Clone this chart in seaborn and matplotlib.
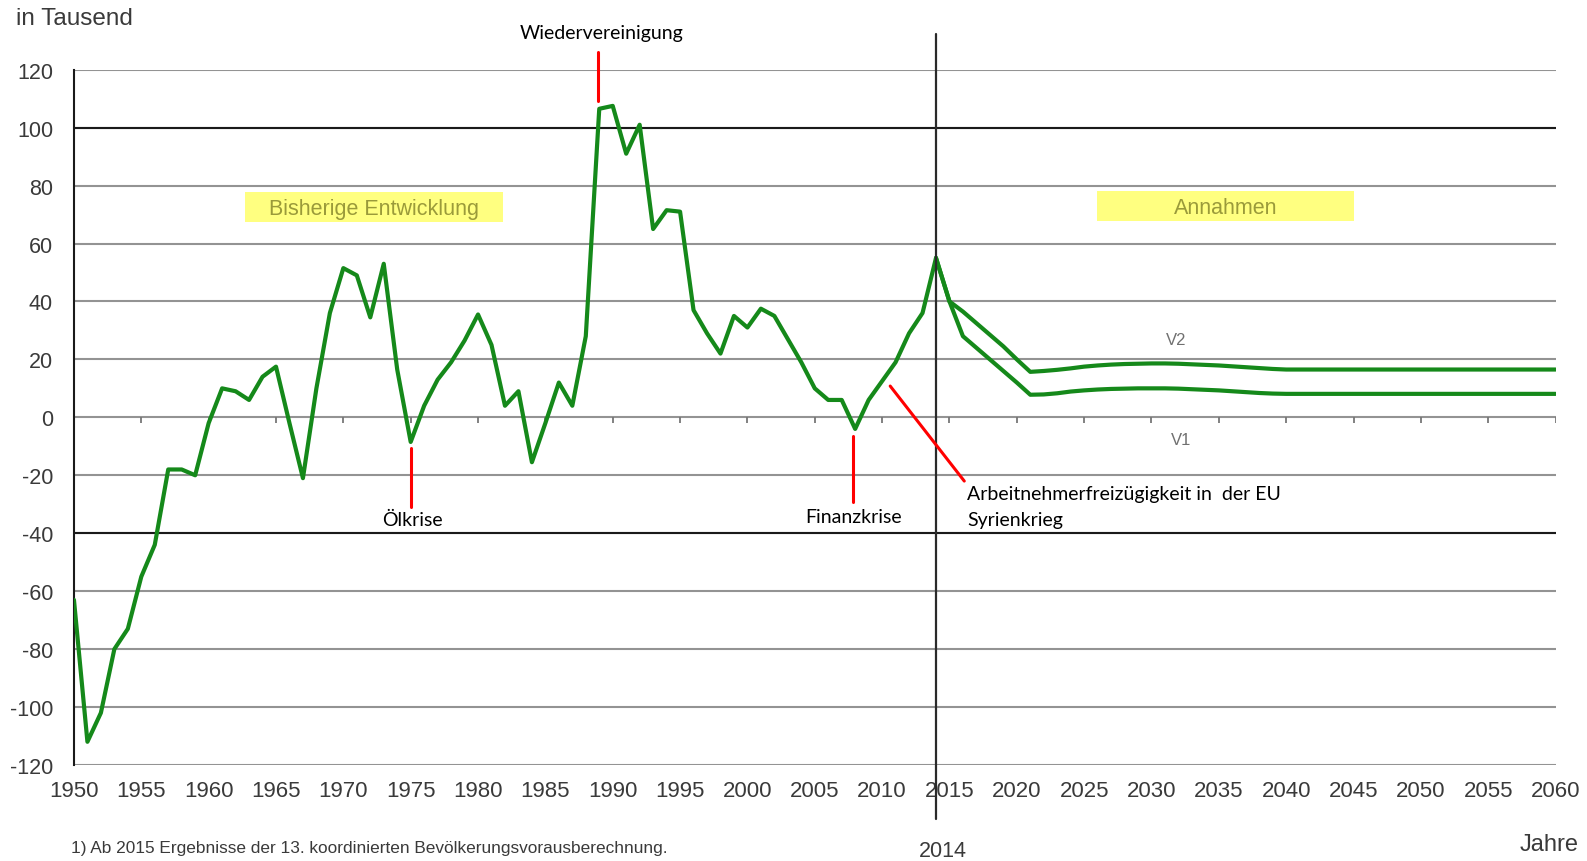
import matplotlib
matplotlib.use("Agg")
import matplotlib.pyplot as plt
import matplotlib.patches as mpatches
import seaborn as sns
import pandas as pd

# Wanderungssaldo in Tausend
jahre_hist = list(range(1950, 2015))
werte_hist = [-63, -112, -102, -80, -73, -55, -44, -18, -18, -20,
              -2, 10, 9, 6, 14, 17.5, -2, -21, 10, 36,
              51.5, 49, 34.5, 53, 16.5, -8.5, 4, 13, 19, 26.5,
              35.5, 25, 4, 9, -15.5, -2, 12, 4, 28, 106.5,
              107.5, 91, 101, 65, 71.5, 71, 37, 29, 22, 35,
              31, 37.5, 35, 27, 19, 10, 6, 6, -4, 6,
              12.5, 19, 29, 36, 55]

jahre_proj = list(range(2014, 2061))
werte_v2 = [55, 40, 36.5, 32.5, 28.5, 24.5, 20, 15.7, 16, 16.4,
            16.9, 17.5, 17.9, 18.2, 18.4, 18.5, 18.6, 18.6, 18.5, 18.3,
            18.1, 17.9, 17.6, 17.3, 17.0, 16.7, 16.5, 16.5, 16.5, 16.5,
            16.5, 16.5, 16.5, 16.5, 16.5, 16.5, 16.5, 16.5, 16.5, 16.5,
            16.5, 16.5, 16.5, 16.5, 16.5, 16.5, 16.5]
werte_v1 = [55, 40, 28, 24, 20, 16, 12, 7.8, 7.9, 8.3,
            8.9, 9.3, 9.6, 9.8, 9.9, 10, 10, 10, 9.9, 9.7,
            9.5, 9.3, 9.0, 8.7, 8.4, 8.2, 8.1, 8.1, 8.1, 8.1,
            8.1, 8.1, 8.1, 8.1, 8.1, 8.1, 8.1, 8.1, 8.1, 8.1,
            8.1, 8.1, 8.1, 8.1, 8.1, 8.1, 8.1]

x_ticks = list(range(1950, 2061, 5))
y_ticks = list(range(-120, 121, 20))

df = pd.concat([
    pd.DataFrame({'Jahr': jahre_hist, 'Wert': werte_hist, 'Reihe': 'bisher'}),
    pd.DataFrame({'Jahr': jahre_proj, 'Wert': werte_v2, 'Reihe': 'V2'}),
    pd.DataFrame({'Jahr': jahre_proj, 'Wert': werte_v1, 'Reihe': 'V1'}),
])

sns.set_style("white")
plt.rcParams['font.family'] = ['Liberation Sans', 'DejaVu Sans']
plt.rcParams['axes.unicode_minus'] = False

GREEN = '#15891a'
GRID = '#939393'
TXT = '#3a3a3a'

fig = plt.figure(figsize=(15.87, 8.62), dpi=100)
ax = fig.add_axes([0.0466, 0.1114, 0.9336, 0.8066])

# grid
ax.set_yticks(y_ticks)
ax.grid(axis='y', color=GRID, lw=1.5, zorder=0)
ax.grid(axis='x', visible=False)
for yv in (100, -40):
    ax.axhline(yv, color='#1a1a1a', lw=1.5, zorder=1)
# small ticks on the zero line
ax.vlines(x_ticks[1:], -1.8, 0, color='#777777', lw=1.3, zorder=1)

sns.lineplot(data=df, x='Jahr', y='Wert', hue='Reihe',
             palette={'bisher': GREEN, 'V2': GREEN, 'V1': GREEN},
             lw=3.0, legend=False, ax=ax, zorder=3)

ax.set_xlim(1950, 2060)
ax.set_ylim(-120, 120)
ax.set_xticks(x_ticks)
ax.set_xlabel('')
ax.set_ylabel('')
for s in ('top', 'right', 'bottom'):
    ax.spines[s].set_visible(False)
ax.spines['left'].set_color('#1a1a1a')
ax.spines['left'].set_linewidth(1.5)
ax.tick_params(axis='x', length=0, pad=11, labelsize=16, labelcolor=TXT)
ax.tick_params(axis='y', length=5, width=1.5, color=GRID, pad=10,
               labelsize=15.5, labelcolor=TXT)

# 2014 divider
ax.plot([2014, 2014], [132.2, -138.5], color='#2a2a2a', lw=1.6,
        clip_on=False, zorder=4)

# yellow boxes
for (x0, x1, y0, y1, label) in [(1962.7, 1981.85, 67.4, 77.7, 'Bisherige Entwicklung'),
                                (2025.96, 2045.04, 67.8, 78.1, 'Annahmen')]:
    ax.add_patch(mpatches.Rectangle((x0, y0), x1 - x0, y1 - y0,
                                    facecolor='#ffff80', edgecolor='none', zorder=2))
    ax.text((x0 + x1) / 2, (y0 + y1) / 2 - 0.4, label, ha='center', va='center',
            fontsize=15.5, color='#9a9a3a', zorder=3)

ax.text(2031.8, 26.7, 'V2', ha='center', va='center', fontsize=12, color='#707070')
ax.text(2032.2, -7.5, 'V1', ha='center', va='center', fontsize=12, color='#707070')

# red annotations
RED = '#ff0000'
ann_font = ['Lato', 'DejaVu Sans']
ax.plot([1988.9, 1988.9], [126.1, 109.3], color=RED, lw=2.2, clip_on=False)
ax.text(1989.2, 132.7, 'Wiedervereinigung', ha='center', va='center',
        fontsize=14, family=ann_font, color='black', clip_on=False)
ax.plot([1975.0, 1975.0], [-10.5, -31.1], color=RED, lw=2.2)
ax.text(1975.1, -35.1, 'Ölkrise', ha='center', va='center',
        fontsize=14, family=ann_font, color='black')
ax.plot([2007.85, 2007.85], [-6.6, -29.3], color=RED, lw=2.2)
ax.text(2007.85, -34.1, 'Finanzkrise', ha='center', va='center',
        fontsize=14, family=ann_font, color='black')
ax.plot([2010.6, 2016.1], [10.8, -22.0], color=RED, lw=2.2, zorder=5)
ax.text(2016.3, -26.4, 'Arbeitnehmerfreizügigkeit in  der EU', ha='left', va='center',
        fontsize=14, family=ann_font, color='black')
ax.text(2016.3, -35.1, 'Syrienkrieg', ha='left', va='center',
        fontsize=14, family=ann_font, color='black')

# outer texts
fig.text(0.0102, 0.9777, 'in Tausend', ha='left', va='center', fontsize=17.5, color=TXT)
fig.text(0.9948, 0.0197, 'Jahre', ha='right', va='center', fontsize=17, color=TXT)
fig.text(0.5943, 0.0125, '2014', ha='center', va='center', fontsize=15.5, color=TXT)
fig.text(0.0446, 0.0162, '1) Ab 2015 Ergebnisse der 13. koordinierten Bevölkerungsvorausberechnung.',
         ha='left', va='center', fontsize=12.4, color=TXT)

fig.savefig('out.png', dpi=100, facecolor='white')
